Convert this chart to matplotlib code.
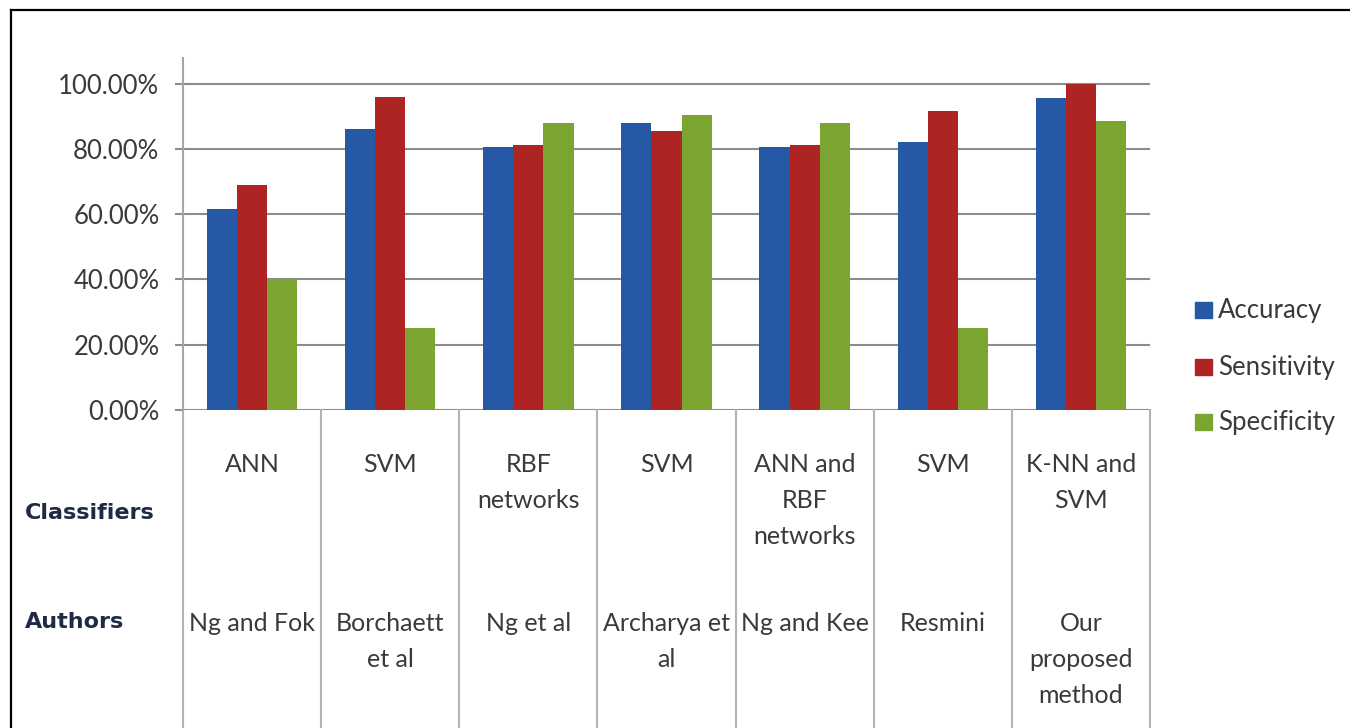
import matplotlib
matplotlib.use("Agg")
import matplotlib.pyplot as plt
from matplotlib.lines import Line2D
from matplotlib.patches import Rectangle
import matplotlib.transforms as mtransforms

plt.rcParams['font.family'] = ['Lato', 'DejaVu Sans']

classifiers = ["ANN", "SVM", "RBF\nnetworks", "SVM", "ANN and\nRBF\nnetworks", "SVM", "K-NN and\nSVM"]
authors = ["Ng and Fok", "Borchaett\net al", "Ng et al", "Archarya et\nal", "Ng and Kee", "Resmini", "Our\nproposed\nmethod"]
series_names = ["Accuracy", "Sensitivity", "Specificity"]
accuracy = [0.616, 0.861, 0.807, 0.879, 0.807, 0.820, 0.957]
sensitivity = [0.689, 0.960, 0.812, 0.855, 0.812, 0.916, 1.000]
specificity = [0.400, 0.250, 0.879, 0.903, 0.879, 0.250, 0.884]
yticks = [0.0, 0.2, 0.4, 0.6, 0.8, 1.0]
ytick_labels = ["0.00%", "20.00%", "40.00%", "60.00%", "80.00%", "100.00%"]
colors = ["#2559A6", "#AE2422", "#7BA530"]

W, H = 1350, 728
fig = plt.figure(figsize=(W / 100, H / 100), dpi=100)

def fx(px):
    return px / W

def fy(py):
    return 1 - py / H

ax_left, ax_right, ax_bottom, ax_top = 183, 1150, 410, 57.5
ax = fig.add_axes([fx(ax_left), fy(ax_bottom), fx(ax_right - ax_left), (ax_bottom - ax_top) / H])

n = len(classifiers)
bw = 0.218
series = [accuracy, sensitivity, specificity]
for k, (vals, c) in enumerate(zip(series, colors)):
    xs = [i + 0.5 + (k - 1) * bw for i in range(n)]
    ax.bar(xs, vals, width=bw, color=c, zorder=3, linewidth=0)

ax.set_xlim(0, n)
ax.set_ylim(0, 1.08)
ax.set_yticks(yticks)
ax.set_yticklabels(ytick_labels, fontsize=18.5, color="#3a3a3a")
ax.set_xticks([])
grid_c = "#8c8c8c"
for y in yticks:
    ax.axhline(y, color=grid_c, lw=1.5, zorder=1)
ax.tick_params(axis='y', length=6, width=1.5, color=grid_c, pad=11)
for s in ["top", "right", "bottom"]:
    ax.spines[s].set_visible(False)
ax.spines["left"].set_color("#a6a6a6")
ax.spines["left"].set_linewidth(1.5)

# table dividers below axis
tr = mtransforms.blended_transform_factory(ax.transData, fig.transFigure)
for i in range(n + 1):
    ax.add_line(Line2D([i, i], [0, fy(ax_bottom)], transform=tr, color="#b3b3b3",
                       lw=1.5, clip_on=False))

txt_c = "#3a3a3a"
fs = 18
for i in range(n):
    ax.text(i + 0.5, fy(453), classifiers[i], transform=tr, ha='center', va='top',
            fontsize=fs, color=txt_c, linespacing=1.68)
    ax.text(i + 0.5, fy(612), authors[i], transform=tr, ha='center', va='top',
            fontsize=fs, color=txt_c, linespacing=1.68)

fig.text(fx(25), fy(513), "Classifiers", ha='left', va='center', fontsize=16,
         fontweight='bold', color="#1F2A44", family=['DejaVu Sans'])
fig.text(fx(25), fy(622), "Authors", ha='left', va='center', fontsize=16,
         fontweight='bold', color="#1F2A44", family=['DejaVu Sans'])

# legend
leg_y = [310, 367, 422]
for name, c, y in zip(series_names, colors, leg_y):
    fig.patches.append(Rectangle((fx(1195), fy(y + 8)), fx(17), 16 / H, color=c,
                                 transform=fig.transFigure, figure=fig))
    fig.text(fx(1218), fy(y), name, ha='left', va='center', fontsize=18.5, color=txt_c)

# outer border (top and left)
fig.add_artist(Line2D([fx(11), 1], [fy(10), fy(10)], transform=fig.transFigure, color='black', lw=1.6))
fig.add_artist(Line2D([fx(11), fx(11)], [fy(10), 0], transform=fig.transFigure, color='black', lw=1.6))

fig.savefig("out.png", dpi=100, facecolor="white")
